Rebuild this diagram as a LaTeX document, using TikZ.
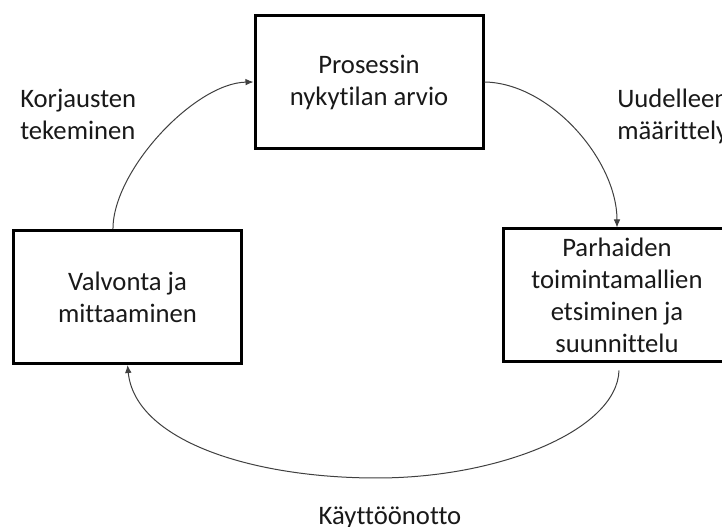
\documentclass[tikz,border=0pt]{standalone}
\usepackage{fontspec}
\setmainfont{Carlito}[Ligatures=NoCommon]
\usetikzlibrary{arrows.meta,calc}
\begin{document}
\begin{tikzpicture}[x=0.75pt,y=-0.75pt,
  stage/.style={draw=black,line width=2.25pt,minimum width=171pt,minimum height=99.75pt,
    align=center,inner sep=0pt,font=\fontsize{20}{24}\selectfont,text=black!90},
  flow/.style={draw=black!75,line width=0.75pt,-{Latex[length=6pt,width=5pt]}},
  caption/.style={font=\fontsize{20}{24}\selectfont,text=black!90,inner sep=0pt,align=left}]
  % canvas
  \clip (0,0) rectangle (722,527);
  \fill[white] (0,0) rectangle (722,527);

  % the three stages of the cycle
  \node[stage] (arvio) at (369,82) {Prosessin\\nykytilan arvio};
  \node[stage] (valvonta) at (127.5,297) {Valvonta ja\\mittaaminen};
  \node[stage] (parhaat) at (617,295.5) {Parhaiden\\toimintamallien\\etsiminen ja\\suunnittelu};

  % step captions (base anchor sits on the last line)
  \node[caption,anchor=base west] (korj) at (20,140) {Korjausten\\tekeminen};
  \node[caption,anchor=base west] (uud) at (617,140) {Uudelleen\\määrittely};
  \node[caption,anchor=base] (kayt) at (390,525) {Käyttöönotto};

  % connectors
  \draw[flow] ($(valvonta.north west)!0.437!(valvonta.north east)$)
    .. controls (113,170) and (195,83) .. (arvio.west);
  \draw[flow] (arvio.east)
    .. controls (550,83) and (617,160) .. (parhaat.north);
  \draw[flow] ($(parhaat.south)+(2,7)$)
    .. controls (617,430) and (500,478) .. (377,478)
    .. controls (250,478) and (135,440) .. (valvonta.south);
\end{tikzpicture}
\end{document}
